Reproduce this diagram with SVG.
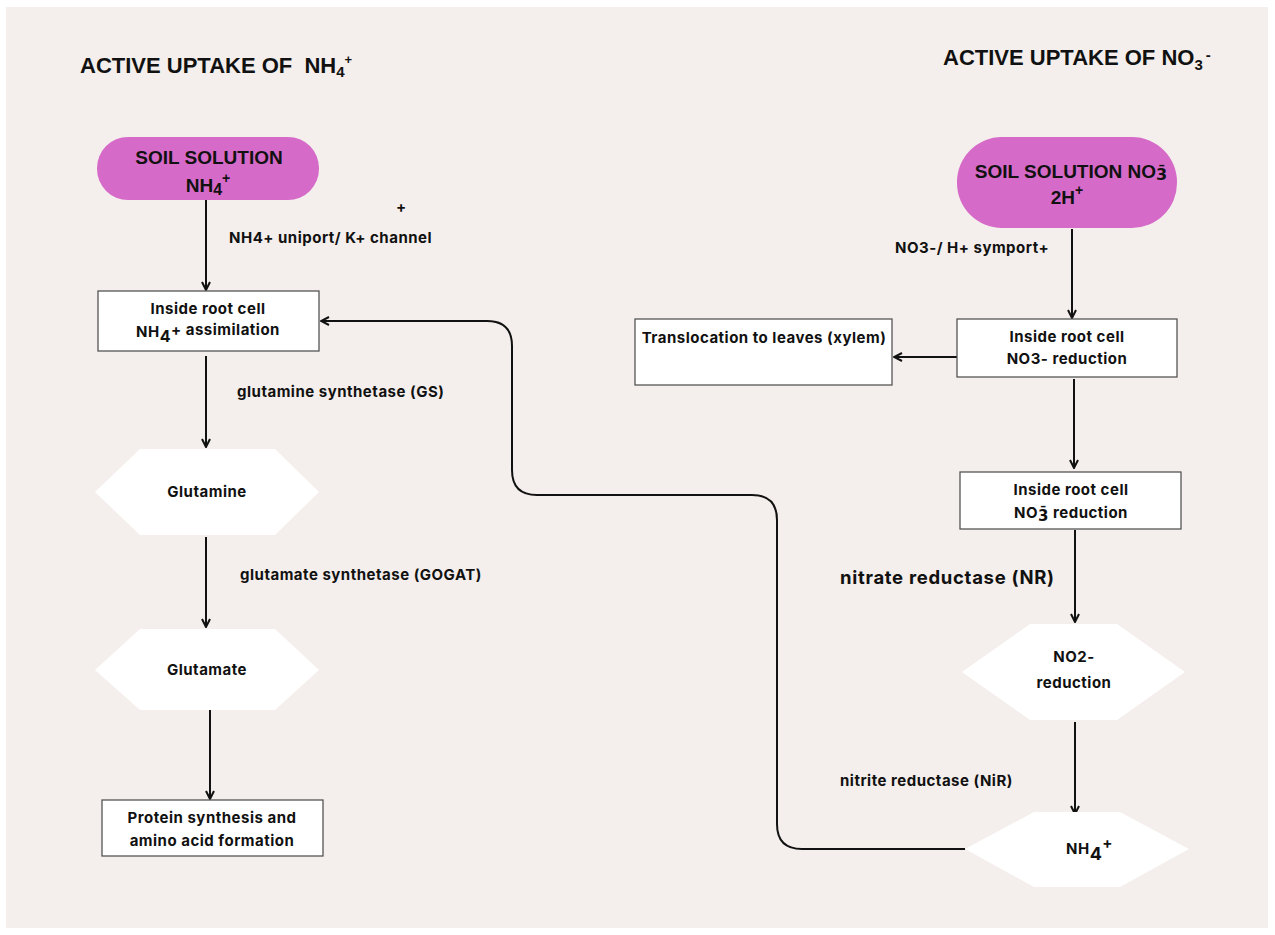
<svg xmlns="http://www.w3.org/2000/svg" width="1275" height="935" viewBox="0 0 1275 935">
<defs>
<marker id="ah" viewBox="0 0 10 10" refX="9" refY="5" markerWidth="10" markerHeight="10" markerUnits="userSpaceOnUse" orient="auto">
<path d="M1,1 L9,5 L1,9" fill="none" stroke="#111" stroke-width="2"/>
</marker>
<style>
.title{font-family:"Liberation Sans",Arial,sans-serif;font-weight:bold;font-size:22px;fill:#111}
.lbl{font-family:Inter,"Liberation Sans",sans-serif;font-weight:700;font-size:15px;letter-spacing:0.5px;fill:#111}
.big{font-family:Inter,"Liberation Sans",sans-serif;font-weight:700;font-size:18.5px;letter-spacing:0.7px;fill:#111}
.pilltxt{font-family:"Liberation Sans",Arial,sans-serif;font-weight:bold;font-size:19px;fill:#111}
.mac{font-family:"DejaVu Sans",sans-serif}
.pill{fill:#d66ac8}
.box{fill:#fff;stroke:#555;stroke-width:1.3}
.hex{fill:#fff}
.conn{fill:none;stroke:#111;stroke-width:2;marker-end:url(#ah)}
</style>
</defs>
<rect x="0" y="0" width="1275" height="935" fill="#ffffff"/>
<rect x="6" y="7" width="1262" height="921" fill="#f4efec"/>

<g id="titles">
<text class="title" x="80" y="73">ACTIVE UPTAKE OF <tspan dx="6">NH</tspan><tspan font-size="15" dy="4">4</tspan><tspan font-size="13" dy="-13">+</tspan></text>
<text class="title" x="943" y="65">ACTIVE UPTAKE OF NO<tspan font-size="15" dy="5">3</tspan><tspan font-size="15" dy="-10" dx="3">-</tspan></text>
</g>

<g id="connectors">
<line class="conn" x1="206" y1="200" x2="206" y2="290"/>
<line class="conn" x1="206" y1="356" x2="206" y2="447"/>
<line class="conn" x1="206" y1="537" x2="206" y2="627"/>
<line class="conn" x1="210" y1="710" x2="210" y2="799"/>
<line class="conn" x1="1072" y1="229" x2="1072" y2="318"/>
<line class="conn" x1="957" y1="357" x2="894" y2="357"/>
<line class="conn" x1="1074" y1="379" x2="1074" y2="468"/>
<line class="conn" x1="1075" y1="530" x2="1075" y2="622"/>
<line class="conn" x1="1075" y1="722" x2="1075" y2="814"/>
<path class="conn" d="M965,849 H802 Q777,849 777,824 V520 Q777,495 752,495 H537 Q512,495 512,470 V346 Q512,321 487,321 H321"/>
</g>

<g id="labels">
<text class="lbl" x="396" y="212" font-size="12">+</text>
<text class="lbl" x="229" y="243">NH4+ uniport/ K+ channel</text>
<text class="lbl" x="237" y="397">glutamine synthetase (GS)</text>
<text class="lbl" x="240" y="580">glutamate synthetase (GOGAT)</text>
<text class="lbl" x="895" y="253">NO3-/ H+ symport+</text>
<text class="big" x="840" y="584">nitrate reductase (NR)</text>
<text class="lbl" x="840" y="786">nitrite reductase (NiR)</text>
</g>

<g id="soil-nh4">
<rect class="pill" x="97" y="137" width="222" height="63" rx="31"/>
<text class="pilltxt" x="209" y="164" text-anchor="middle">SOIL SOLUTION</text>
<text class="pilltxt" x="208" y="192" text-anchor="middle">NH<tspan font-size="16" dy="3">4</tspan><tspan font-size="14" dy="-12">+</tspan></text>
</g>

<g id="root-nh4">
<rect class="box" x="98" y="291" width="221" height="60"/>
<text class="lbl" x="208" y="314" text-anchor="middle">Inside root cell</text>
<text class="lbl" x="208" y="337" text-anchor="middle">NH<tspan font-size="16" dy="5">4</tspan><tspan dy="-7">+ assimilation</tspan></text>
</g>

<g id="glutamine">
<polygon class="hex" points="95,492 140,449 275,449 319,492 275,535 140,535"/>
<text class="lbl" x="207" y="497" text-anchor="middle">Glutamine</text>
</g>

<g id="glutamate">
<polygon class="hex" points="95,670 140,629 275,629 319,670 275,710 140,710"/>
<text class="lbl" x="207" y="675" text-anchor="middle">Glutamate</text>
</g>

<g id="protein">
<rect class="box" x="102" y="800" width="221" height="56"/>
<text class="lbl" x="212" y="823" text-anchor="middle">Protein synthesis and</text>
<text class="lbl" x="212" y="846" text-anchor="middle">amino acid formation</text>
</g>

<g id="soil-no3">
<rect class="pill" x="957" y="137" width="220" height="91" rx="45"/>
<text class="pilltxt" x="1071" y="178" text-anchor="middle">SOIL SOLUTION NO<tspan class="mac" font-size="16" dy="2">3̄</tspan></text>
<text class="pilltxt" x="1067" y="204" text-anchor="middle">2H<tspan font-size="14" dy="-9">+</tspan></text>
</g>

<g id="root-no3">
<rect class="box" x="957" y="319" width="220" height="58"/>
<text class="lbl" x="1067" y="342" text-anchor="middle">Inside root cell</text>
<text class="lbl" x="1067" y="364" text-anchor="middle">NO3- reduction</text>
</g>

<g id="translocation">
<rect class="box" x="635" y="319" width="257" height="66"/>
<text class="lbl" x="764" y="343" text-anchor="middle">Translocation to leaves (xylem)</text>
</g>

<g id="root-no3-2">
<rect class="box" x="960" y="472" width="221" height="57"/>
<text class="lbl" x="1071" y="495" text-anchor="middle">Inside root cell</text>
<text class="lbl" x="1071" y="518" text-anchor="middle">NO<tspan class="mac" font-size="15" dy="3">3̄</tspan><tspan dy="-3"> reduction</tspan></text>
</g>

<g id="no2">
<polygon class="hex" points="962,672 1030,624 1117,624 1185,672 1117,720 1030,720"/>
<text class="lbl" x="1074" y="662" text-anchor="middle">NO2-</text>
<text class="lbl" x="1074" y="688" text-anchor="middle">reduction</text>
</g>

<g id="nh4-out">
<polygon class="hex" points="965,849 1034,812 1120,812 1189,849 1120,887 1034,887"/>
<text class="lbl" x="1066" y="854">NH<tspan font-size="18" dy="6">4</tspan><tspan dy="-12">+</tspan></text>
</g>
</svg>
